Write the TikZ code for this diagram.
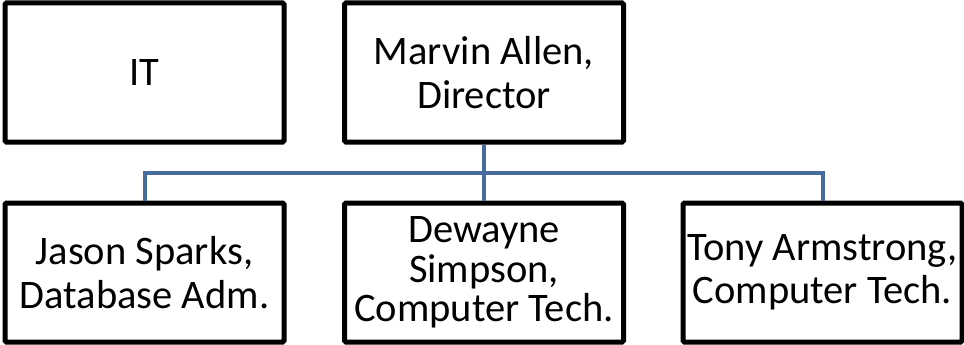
\documentclass[tikz,border=0pt]{standalone}
\usepackage{fontspec}
\setmainfont{Carlito}
\definecolor{linkblue}{RGB}{69,108,157}

\begin{document}
\begin{tikzpicture}[x=1pt, y=-1pt,
	orgbox/.style={draw, line width=5pt, rounded corners=1.5pt, minimum width=279pt, minimum height=139pt, inner sep=0pt, align=center, font=\fontsize{40.5}{43.5}\selectfont},
	link/.style={draw=linkblue, line width=4pt}]
	\useasboundingbox (0,0) rectangle (964,345);

	\node (it)[orgbox] at(144.5,72.5) {IT};
	\node (boss)[orgbox] at(484,72.5) {Marvin Allen,\\Director};

	\node (jason)[orgbox] at(144.5,272.5) {Jason Sparks,\\Database Adm.};
	\node (dewayne)[orgbox, font=\fontsize{40.5}{39.5}\selectfont] at(484,272.5) {Dewayne\\Simpson,\\Computer Tech.};
	\node (tony)[orgbox] at(822.5,272.5) {Tony Armstrong,\\Computer Tech.};

	\coordinate (hub) at(484,172.5);

	\draw [link](boss.south)--(hub);
	\draw [link](hub)-|(jason.north);
	\draw [link](hub)-|(tony.north);
	\draw [link](hub)--(dewayne.north);
\end{tikzpicture}
\end{document}
